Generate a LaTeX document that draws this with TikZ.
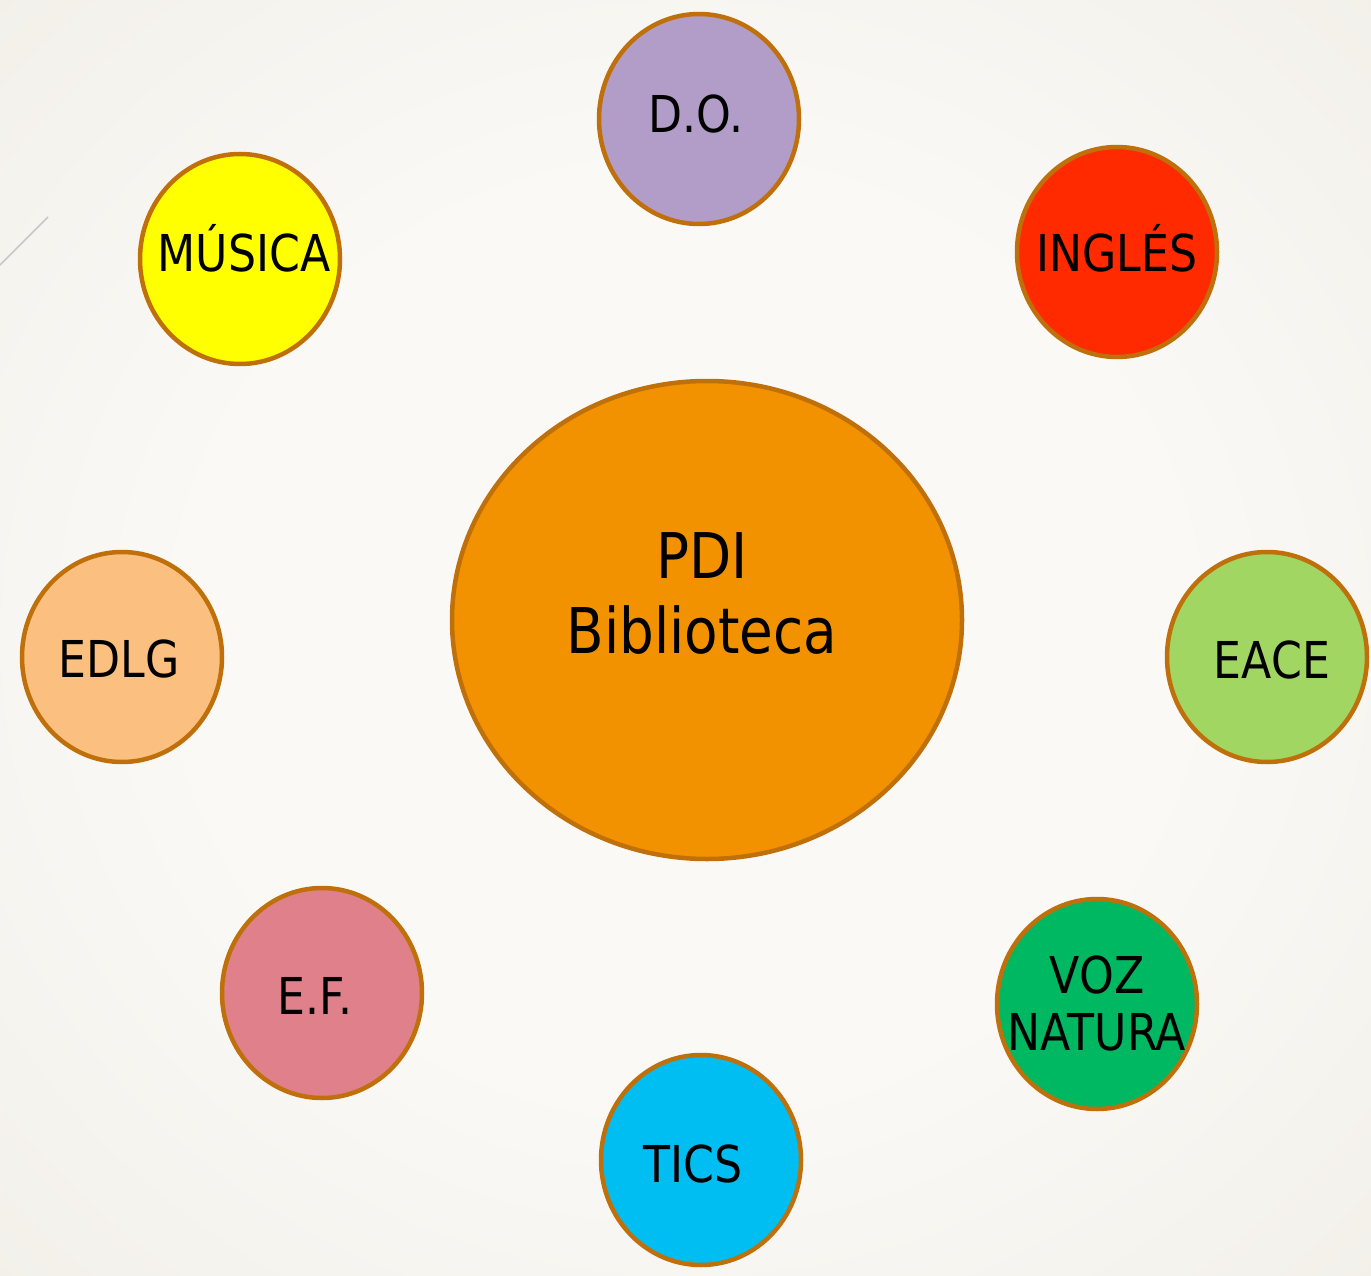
\documentclass[tikz,border=0pt]{standalone}
\usepackage{fontspec}
\setmainfont{DejaVu Sans}[FakeStretch=0.87]
\usepackage{tikz}
\usetikzlibrary{shapes.geometric}

\definecolor{bgin}{HTML}{FAF9F6}
\definecolor{bgout}{HTML}{EDE9E0}
\definecolor{rim}{HTML}{C0700A}
\definecolor{cOrange}{HTML}{F39200}
\definecolor{cLilac}{HTML}{B29CC8}
\definecolor{cRed}{HTML}{FF2A00}
\definecolor{cYellow}{HTML}{FFFF00}
\definecolor{cPeach}{HTML}{FBBF80}
\definecolor{cLime}{HTML}{A2D662}
\definecolor{cRose}{HTML}{E0808A}
\definecolor{cGreen}{HTML}{00B861}
\definecolor{cSky}{HTML}{00BEF2}

\pgfdeclareradialshading{bgglow}{\pgfpoint{0bp}{0bp}}{color(0bp)=(bgin); color(18bp)=(bgin); color(50bp)=(bgout); color(75bp)=(bgout)}

\tikzset{
  bubble/.style={ellipse, draw=rim, line width=4.5pt, inner sep=0pt,
    minimum width=200pt, minimum height=210pt},
  hub/.style={ellipse, draw=rim, line width=4.5pt, inner sep=0pt, fill=cOrange,
    minimum width=510pt, minimum height=478pt},
  word/.style={anchor=base, align=center, inner sep=0pt,
    font=\fontsize{50.8}{57}\selectfont},
  bigword/.style={anchor=base, align=center, inner sep=0pt,
    font=\fontsize{63}{75}\selectfont}
}

\begin{document}
\begin{tikzpicture}[x=1pt, y=-1pt]
  % Page and soft background
  \useasboundingbox (0,0) rectangle (1371,1276);
  \shade[shading=bgglow] (0,0) rectangle (1371,1276);
  \draw[black!22, line width=1.5pt] (0,265) -- (48,217);

  % Central ellipse (multi-line text sits on its last baseline)
  \node[hub] (pdi) at (707,620) {};
  \node[bigword] (pdi text) at (702,653) {PDI\\Biblioteca};

  % Outer circles, clockwise from the top
  \node[bubble, fill=cLilac] (do) at (699,119) {};
  \node[word] (do text) at (696,133) {D.O.};

  \node[bubble, fill=cRed] (ingles) at (1117,252) {};
  \node[word] (ingles text) at (1117,272) {INGLÉS};

  \node[bubble, fill=cLime] (eace) at (1267,657) {};
  \node[word] (eace text) at (1272,678) {EACE};

  \node[bubble, fill=cGreen] (voz) at (1097,1004) {};
  \node[word] (voz text) at (1097,1050) {VOZ\\NATURA};

  \node[bubble, fill=cSky] (tics) at (701,1160) {};
  \node[word] (tics text) at (693,1182) {TICS};

  \node[bubble, fill=cRose] (ef) at (322,993) {};
  \node[word] (ef text) at (315,1014) {E.F.};

  \node[bubble, fill=cPeach] (edlg) at (122,657) {};
  \node[word] (edlg text) at (119,677) {EDLG};

  \node[bubble, fill=cYellow] (musica) at (240,259) {};
  \node[word] (musica text) at (244,272) {MÚSICA};
\end{tikzpicture}
\end{document}
